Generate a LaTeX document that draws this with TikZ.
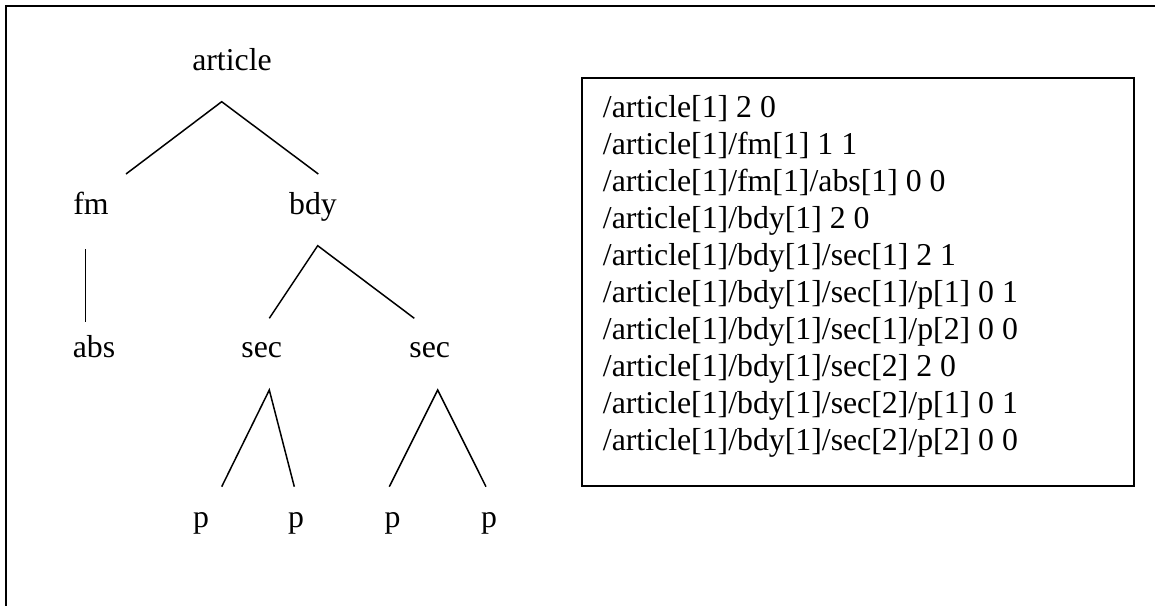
\documentclass[tikz,border=0pt]{standalone}
\usepackage{fontspec}
\setmainfont{Liberation Serif}
\begin{document}
\begin{tikzpicture}[x=1pt,y=-1pt,
  lbl/.style={anchor=base,inner sep=0pt,font=\fontsize{31.8}{37}\selectfont},
  rowtext/.style={anchor=base west,inner sep=0pt,font=\fontsize{31.8}{37}\selectfont},
  frame/.style={draw=black,line width=2pt},
  edge/.style={draw=black,line width=1.5pt}]
\useasboundingbox (0,0) rectangle (1155,605);
\clip (0,0) rectangle (1155,605);
% outer frame (extends beyond the right and bottom edges)
\draw[frame] (5.7,5.7) rectangle (1175,625);
% tree labels
\node[lbl] (article) at (232,70) {article};
\node[lbl] (fm) at (91,214) {fm};
\node[lbl] (bdy) at (313,214) {bdy};
\node[lbl] (abs) at (94,357) {abs};
\node[lbl] (sec1) at (261.7,357) {sec};
\node[lbl] (sec2) at (429.7,357) {sec};
\node[lbl] (p1) at (201,527) {p};
\node[lbl] (p2) at (296,527) {p};
\node[lbl] (p3) at (392.5,527) {p};
\node[lbl] (p4) at (489,527) {p};
% connector end points
\coordinate (articleS) at (221.7,101.7);
\coordinate (fmN) at (126,174);
\coordinate (bdyN) at (318.3,174);
\coordinate (fmS) at (85.7,249);
\coordinate (absN) at (85.7,321.7);
\coordinate (bdyS) at (317.7,245.7);
\coordinate (sec1N) at (269.3,318.3);
\coordinate (sec2N) at (414.3,318.3);
\coordinate (sec1S) at (269.3,390);
\coordinate (sec2S) at (437.7,390);
\coordinate (p1N) at (221.7,486.7);
\coordinate (p2N) at (294.3,486.7);
\coordinate (p3N) at (389.3,486.7);
\coordinate (p4N) at (486,486.7);
% connectors
\draw[edge] (fmN) -- (articleS) -- (bdyN);
\draw[edge] (fmS) -- (absN);
\draw[edge] (sec1N) -- (bdyS) -- (sec2N);
\draw[edge] (p1N) -- (sec1S) -- (p2N);
\draw[edge] (p3N) -- (sec2S) -- (p4N);
% path list box
\draw[frame] (582.3,78.3) rectangle (1133.7,485.7);
\node[rowtext] (r1) at (602.7,117) {/article[1] 2 0};
\node[rowtext] (r2) at (602.7,154) {/article[1]/fm[1] 1 1};
\node[rowtext] (r3) at (602.7,191) {/article[1]/fm[1]/abs[1] 0 0};
\node[rowtext] (r4) at (602.7,228) {/article[1]/bdy[1] 2 0};
\node[rowtext] (r5) at (602.7,265) {/article[1]/bdy[1]/sec[1] 2 1};
\node[rowtext] (r6) at (602.7,302) {/article[1]/bdy[1]/sec[1]/p[1] 0 1};
\node[rowtext] (r7) at (602.7,339) {/article[1]/bdy[1]/sec[1]/p[2] 0 0};
\node[rowtext] (r8) at (602.7,376) {/article[1]/bdy[1]/sec[2] 2 0};
\node[rowtext] (r9) at (602.7,413) {/article[1]/bdy[1]/sec[2]/p[1] 0 1};
\node[rowtext] (r10) at (602.7,450) {/article[1]/bdy[1]/sec[2]/p[2] 0 0};
\end{tikzpicture}
\end{document}
